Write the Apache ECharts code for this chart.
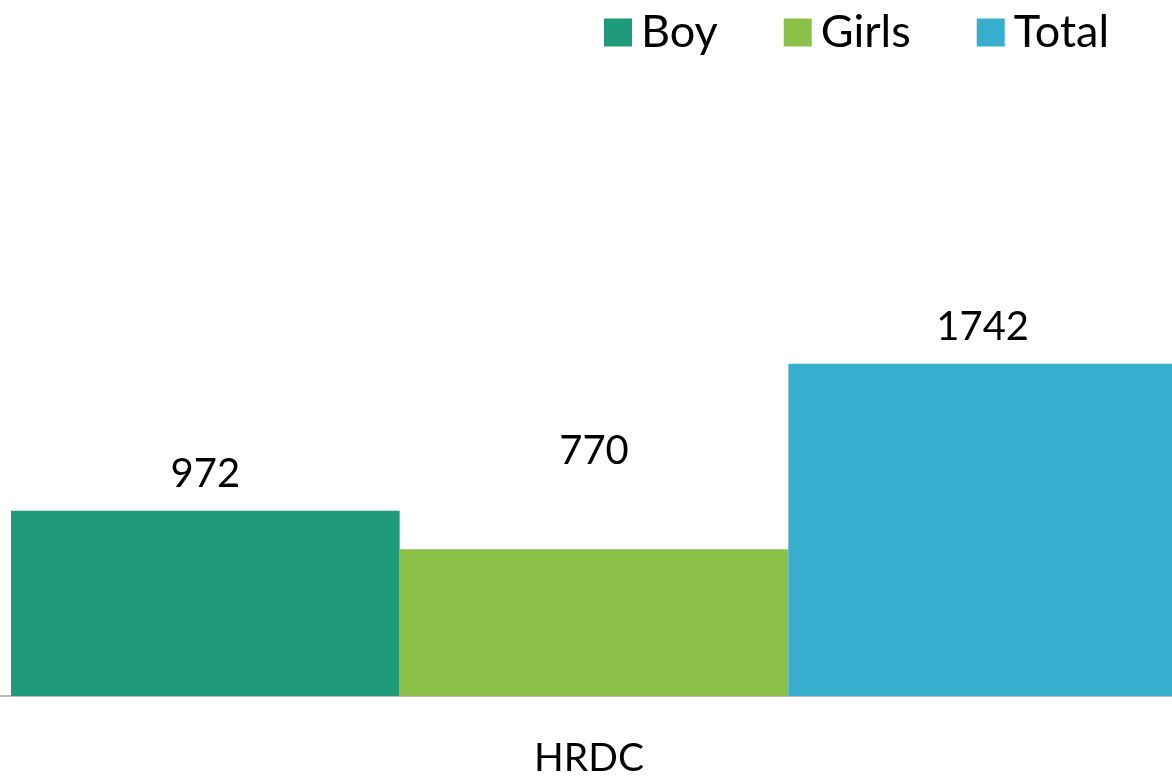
<!DOCTYPE html>
<html>
<head>
<meta charset="utf-8">
<script src="https://cdn.jsdelivr.net/npm/echarts@6/dist/echarts.min.js"></script>
<style>html,body{margin:0;padding:0;background:#fff;}#c{width:1172px;height:776px;}</style>
</head>
<body>
<div id="c"></div>
<script>
const categories = ['HRDC'];
const seriesNames = ['Boy', 'Girls', 'Total'];
const boyValues = [972];
const girlsValues = [770];
const totalValues = [1742];
const colors = ['#1F9B7B', '#8BC148', '#37AECE'];
const FONT = 'Lato';

const chart = echarts.init(document.getElementById('c'));
const labelCfg = { show: true, position: 'top', distance: 17, color: '#000', fontFamily: FONT, fontSize: 40 };
chart.setOption({
  animation: false,
  textStyle: { fontFamily: FONT },
  legend: {
    data: seriesNames,
    left: 599, top: 5,
    itemWidth: 28, itemHeight: 28, itemGap: 66,
    icon: 'rect',
    textStyle: { fontFamily: FONT, fontSize: 45, color: '#000', padding: [0, 0, 0, 4] }
  },
  grid: { left: 0, width: 1188, top: 28.5, bottom: 80, containLabel: false, outerBoundsMode: 'none' },
  xAxis: {
    type: 'category', data: categories,
    axisLine: { show: true, lineStyle: { color: '#A6A6A6', width: 1.5 } },
    axisTick: { show: false },
    axisLabel: { color: '#000', fontFamily: FONT, fontSize: 39, margin: 43, padding: [0, 10, 0, 0] }
  },
  yAxis: { type: 'value', min: 0, max: 3500, show: false, splitLine: { show: false } },
  series: [
    { name: seriesNames[0], type: 'bar', data: boyValues, barGap: '0%', barCategoryGap: '1.85%', itemStyle: { color: colors[0] }, label: labelCfg },
    { name: seriesNames[1], type: 'bar', data: girlsValues, barGap: '0%', barCategoryGap: '1.85%', itemStyle: { color: colors[1] }, label: Object.assign({}, labelCfg, { distance: 78 }) },
    { name: seriesNames[2], type: 'bar', data: totalValues, barGap: '0%', barCategoryGap: '1.85%', itemStyle: { color: colors[2] }, label: labelCfg }
  ]
});
</script>
</body>
</html>
